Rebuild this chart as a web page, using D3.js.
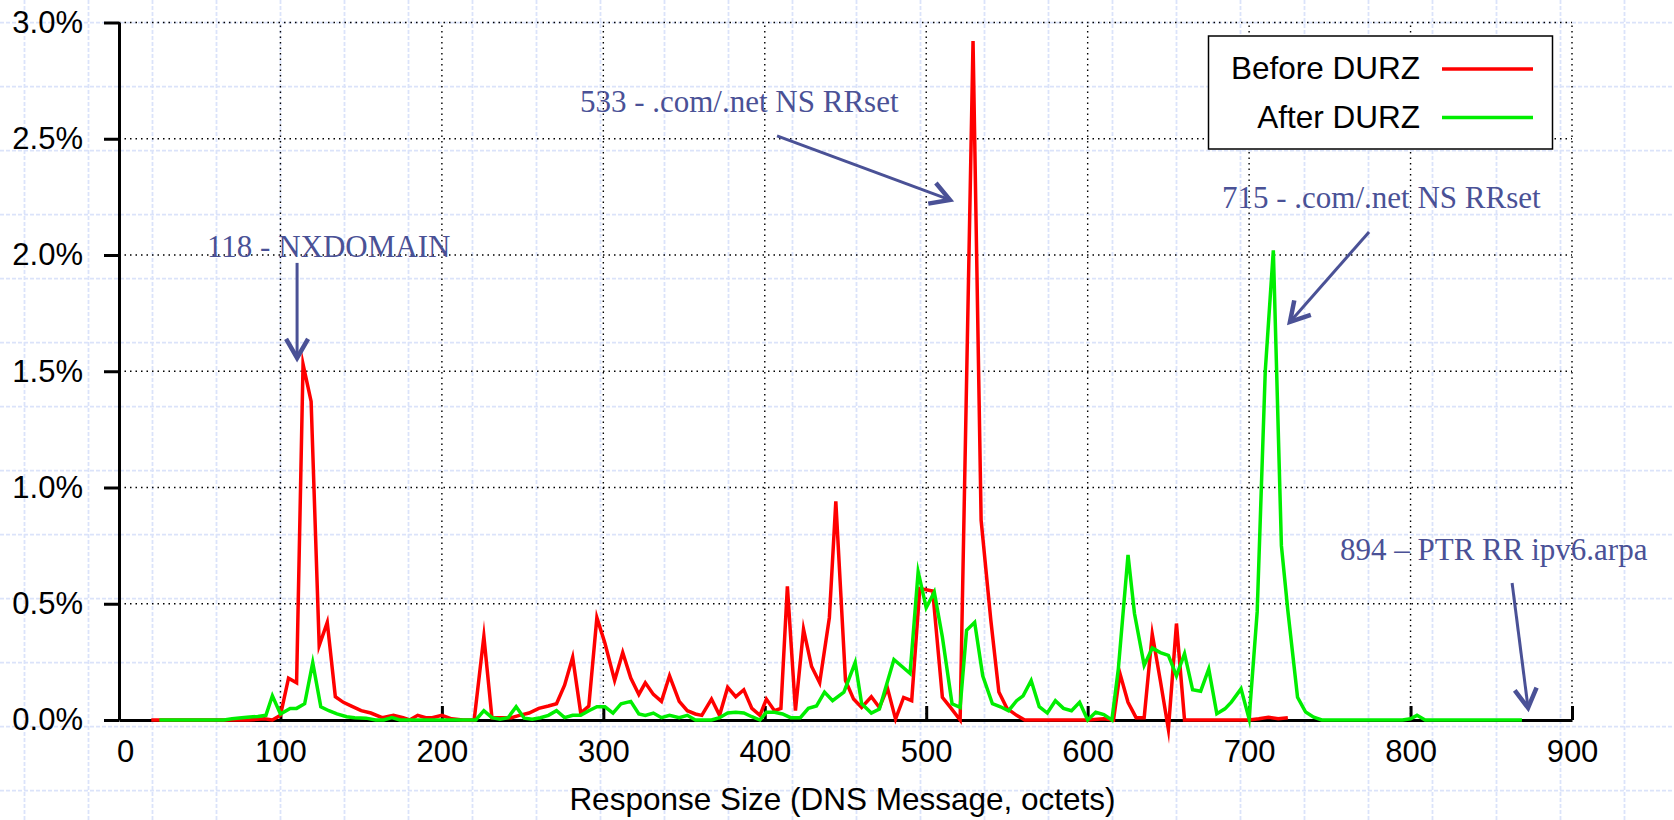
<!DOCTYPE html>
<html lang="en">
<head>
<meta charset="UTF-8">
<title>Response Size Distribution</title>
<script src="https://d3js.org/d3.v7.min.js"></script>
<style>
  body { margin: 0; background: #fff; }
  svg { display: block; }
</style>
</head>
<body>
<div id="chart"></div>
<script>
// ---- data (response size in octets, share of responses in %) ----
const sizeBefore = [20,40,60,80,90,95,100,105,110,114,119,124,129,134,139,144,150,156,163,170,176,180,185,190,194,200,206,213,220,226,231,237,243,248,254,260,266,271,276,281,286,291,296,301,307,312,317,322,326,331,336,341,347,352,357,361,367,372,377,382,387,392,397,401,406,410,414,419,424,429,434,440,444,450,455,460,466,471,476,481,486,491,496,504,510,515,521,529,534,540,545,550,556,561,580,600,610,616,620,625,630,635,640,645,650,655,660,680,700,706,712,718,724];
const pctBefore  = [0,0,0,0,0.005,0,0.02,0.18,0.16,1.53,1.37,0.32,0.42,0.10,0.076,0.06,0.04,0.03,0.01,0.02,0.01,0,0.02,0.01,0.01,0.02,0.005,0,0,0.36,0.01,0.01,0.01,0.02,0.03,0.05,0.06,0.07,0.15,0.27,0.03,0.06,0.44,0.33,0.17,0.29,0.18,0.11,0.16,0.11,0.08,0.19,0.08,0.04,0.026,0.02,0.09,0.02,0.14,0.10,0.13,0.05,0.02,0.09,0.04,0.05,0.575,0.04,0.39,0.23,0.16,0.44,0.94,0.17,0.09,0.054,0.10,0.054,0.137,0.004,0.097,0.083,0.565,0.555,0.098,0.054,0,2.92,0.86,0.43,0.12,0.05,0.02,0,0,0,0.005,0,0.2,0.076,0.01,0.01,0.37,0.17,-0.04,0.415,0,0,0,0.005,0.012,0.005,0.01];

const sizeAfter = [25,45,65,70,76,81,86,91,95,100,106,110,115,120,125,130,135,141,146,153,159,164,169,174,221,226,231,236,241,246,251,256,261,266,271,276,281,286,291,296,301,306,311,317,322,326,331,336,341,347,352,357,367,372,377,382,387,392,397,401,406,411,416,422,427,432,437,442,449,456,460,466,471,480,485,490,495,500,505,510,516,521,525,530,535,541,546,551,556,560,565,570,575,580,585,590,595,600,605,610,615,619,625,629,635,640,645,650,655,660,665,670,675,680,685,689,695,700,705,710,715,720,724,730,735,740,745,795,800,804,809,869];
const pctAfter  = [0,0,0,0.005,0.01,0.013,0.015,0.02,0.104,0.026,0.05,0.05,0.07,0.247,0.057,0.04,0.026,0.014,0.01,0.008,0,0,0.01,0,0,0.04,0.01,0.003,0.01,0.057,0.008,0.003,0.01,0.02,0.04,0.01,0.02,0.02,0.04,0.057,0.057,0.03,0.07,0.08,0.026,0.02,0.03,0.01,0.02,0.01,0.02,0,0,0.01,0.03,0.033,0.03,0.014,0,0.033,0.033,0.026,0.01,0.01,0.05,0.06,0.12,0.083,0.12,0.247,0.07,0.03,0.047,0.26,0.23,0.2,0.637,0.483,0.55,0.357,0.07,0.054,0.386,0.42,0.19,0.07,0.057,0.04,0.083,0.104,0.17,0.057,0.03,0.083,0.05,0.04,0.076,0,0.033,0.023,0,0.22,0.71,0.458,0.235,0.31,0.29,0.278,0.19,0.285,0.13,0.124,0.22,0.027,0.048,0.077,0.134,0.005,0.465,1.5,2.02,0.75,0.47,0.098,0.034,0.012,0,0,0.005,0.02,0,0];

const seriesNames = ["Before DURZ", "After DURZ"];
const xTickValues = [0,100,200,300,400,500,600,700,800,900];
const yTickValues = [0,0.5,1.0,1.5,2.0,2.5,3.0];
const xTitle = "Response Size (DNS Message, octets)";

// annotation texts, and where they sit in data units (size, %)
const noteTexts = ["118 - NXDOMAIN", "533 - .com/.net NS RRset", "715 - .com/.net NS RRset", "894 \u2013 PTR RR ipv6.arpa"];
const noteText  = [[54.5, 1.99], [285.5, 2.615], [683.2, 2.202], [756.3, 0.688]];
const noteFrom  = [[110.3, 1.966], [407.6, 2.512], [774.3, 2.099], [862.9, 0.589]];
const noteTo    = [[110.3, 1.557], [514.7, 2.237], [725.3, 1.712], [872.8, 0.052]];

// ---- layout ----
const W = 1674, H = 820;
const padL = 119, padR = 1572, padT = 22.5, padB = 720;
const red = "#ff0000", green = "#00ee00", noteColor = "#4a5196";
const sans = "'Liberation Sans', Arial, Helvetica, sans-serif";
const serif = "'Liberation Serif', 'Times New Roman', serif";

const x = d3.scaleLinear().domain([0, 900]).range([padL, padR]);
const y = d3.scaleLinear().domain([0, 3.0]).range([padB, padT]);

const svg = d3.select("#chart").append("svg")
    .attr("width", W)
    .attr("height", H);

svg.append("rect").attr("width", W).attr("height", H).attr("fill", "#fff");

// graph-paper background
const paper = svg.append("g").attr("stroke", "#dbe3fa").attr("stroke-width", 1.8)
    .attr("stroke-dasharray", "4,2");
paper.selectAll("line.v").data(d3.range(24.5, W, 64)).enter().append("line")
    .attr("class", "v").attr("x1", d => d).attr("x2", d => d).attr("y1", 0).attr("y2", H);
paper.selectAll("line.h").data(d3.range(22.7, H, 64)).enter().append("line")
    .attr("class", "h").attr("y1", d => d).attr("y2", d => d).attr("x1", 0).attr("x2", W);

// dotted grid
const grid = svg.append("g").attr("stroke", "#000").attr("stroke-width", 1.4)
    .attr("stroke-dasharray", "1.5,4");
grid.selectAll("line.gx").data(xTickValues.slice(1)).enter().append("line")
    .attr("class", "gx")
    .attr("x1", d => x(d)).attr("x2", d => x(d)).attr("y1", y(0)).attr("y2", y(3.0));
grid.selectAll("line.gy").data(yTickValues.slice(1)).enter().append("line")
    .attr("class", "gy")
    .attr("y1", d => y(d)).attr("y2", d => y(d)).attr("x1", x(0)).attr("x2", x(900));

// axes
const yAxis = d3.axisLeft(y).tickValues(yTickValues)
    .tickFormat(d => d3.format(".1f")(d) + "%")
    .tickSize(15).tickSizeOuter(0).tickPadding(21);
const xAxis = d3.axisBottom(x).tickValues(xTickValues)
    .tickSizeInner(-14).tickSizeOuter(0).tickPadding(20);

const gy = svg.append("g").attr("transform", `translate(${padL},0)`).call(yAxis);
const gx = svg.append("g").attr("transform", `translate(0,${padB})`).call(xAxis);
[gx, gy].forEach(g => {
  g.attr("font-family", sans).attr("font-size", 31);
  g.selectAll("path, line").attr("stroke", "#000").attr("stroke-width", 3);
  g.selectAll("text").attr("fill", "#000");
});
gx.selectAll(".tick text").filter(d => d === 0).attr("dx", 6);

svg.append("text")
    .attr("x", (padL + padR) / 2 - 3)
    .attr("y", 810)
    .attr("text-anchor", "middle")
    .attr("font-family", sans)
    .attr("font-size", 31.5)
    .text(xTitle);

// lines
const line = d3.line().x(d => x(d[0])).y(d => y(d[1]));
const before = sizeBefore.map((s, i) => [s, pctBefore[i]]);
const after = sizeAfter.map((s, i) => [s, pctAfter[i]]);

svg.append("path").datum(before)
    .attr("d", line).attr("fill", "none")
    .attr("stroke", red).attr("stroke-width", 3.5).attr("stroke-linejoin", "miter")
    .attr("stroke-miterlimit", 10);
svg.append("path").datum(after)
    .attr("d", line).attr("fill", "none")
    .attr("stroke", green).attr("stroke-width", 3.5).attr("stroke-linejoin", "miter")
    .attr("stroke-miterlimit", 10);

// annotations
noteTexts.forEach((t, i) => {
  svg.append("text")
      .attr("x", x(noteText[i][0]))
      .attr("y", y(noteText[i][1]))
      .attr("font-family", serif)
      .attr("font-size", 31)
      .attr("fill", noteColor)
      .text(t);

  const x1 = x(noteFrom[i][0]), y1 = y(noteFrom[i][1]);
  const x2 = x(noteTo[i][0]), y2 = y(noteTo[i][1]);
  const ang = Math.atan2(y2 - y1, x2 - x1);
  const len = 22, spread = Math.PI / 6;
  svg.append("line")
      .attr("x1", x1).attr("y1", y1).attr("x2", x2).attr("y2", y2)
      .attr("stroke", noteColor).attr("stroke-width", 3);
  const wing = a => [x2 - len * Math.cos(ang + a), y2 - len * Math.sin(ang + a)];
  svg.append("path")
      .attr("d", d3.line()([wing(spread), [x2, y2], wing(-spread)]))
      .attr("fill", "none")
      .attr("stroke", noteColor).attr("stroke-width", 4.5)
      .attr("stroke-linejoin", "miter");
});

// legend
const lg = svg.append("g");
lg.append("rect")
    .attr("x", 1208.5).attr("y", 36).attr("width", 344).attr("height", 113)
    .attr("fill", "#fff").attr("stroke", "#000").attr("stroke-width", 1.5);
[red, green].forEach((c, i) => {
  const yy = 69 + i * 48.5;
  lg.append("text")
      .attr("x", 1420).attr("y", yy + 10)
      .attr("text-anchor", "end")
      .attr("font-family", sans).attr("font-size", 31.5)
      .text(seriesNames[i]);
  lg.append("line")
      .attr("x1", 1442).attr("x2", 1533).attr("y1", yy).attr("y2", yy)
      .attr("stroke", c).attr("stroke-width", 3.5);
});
</script>
</body>
</html>
